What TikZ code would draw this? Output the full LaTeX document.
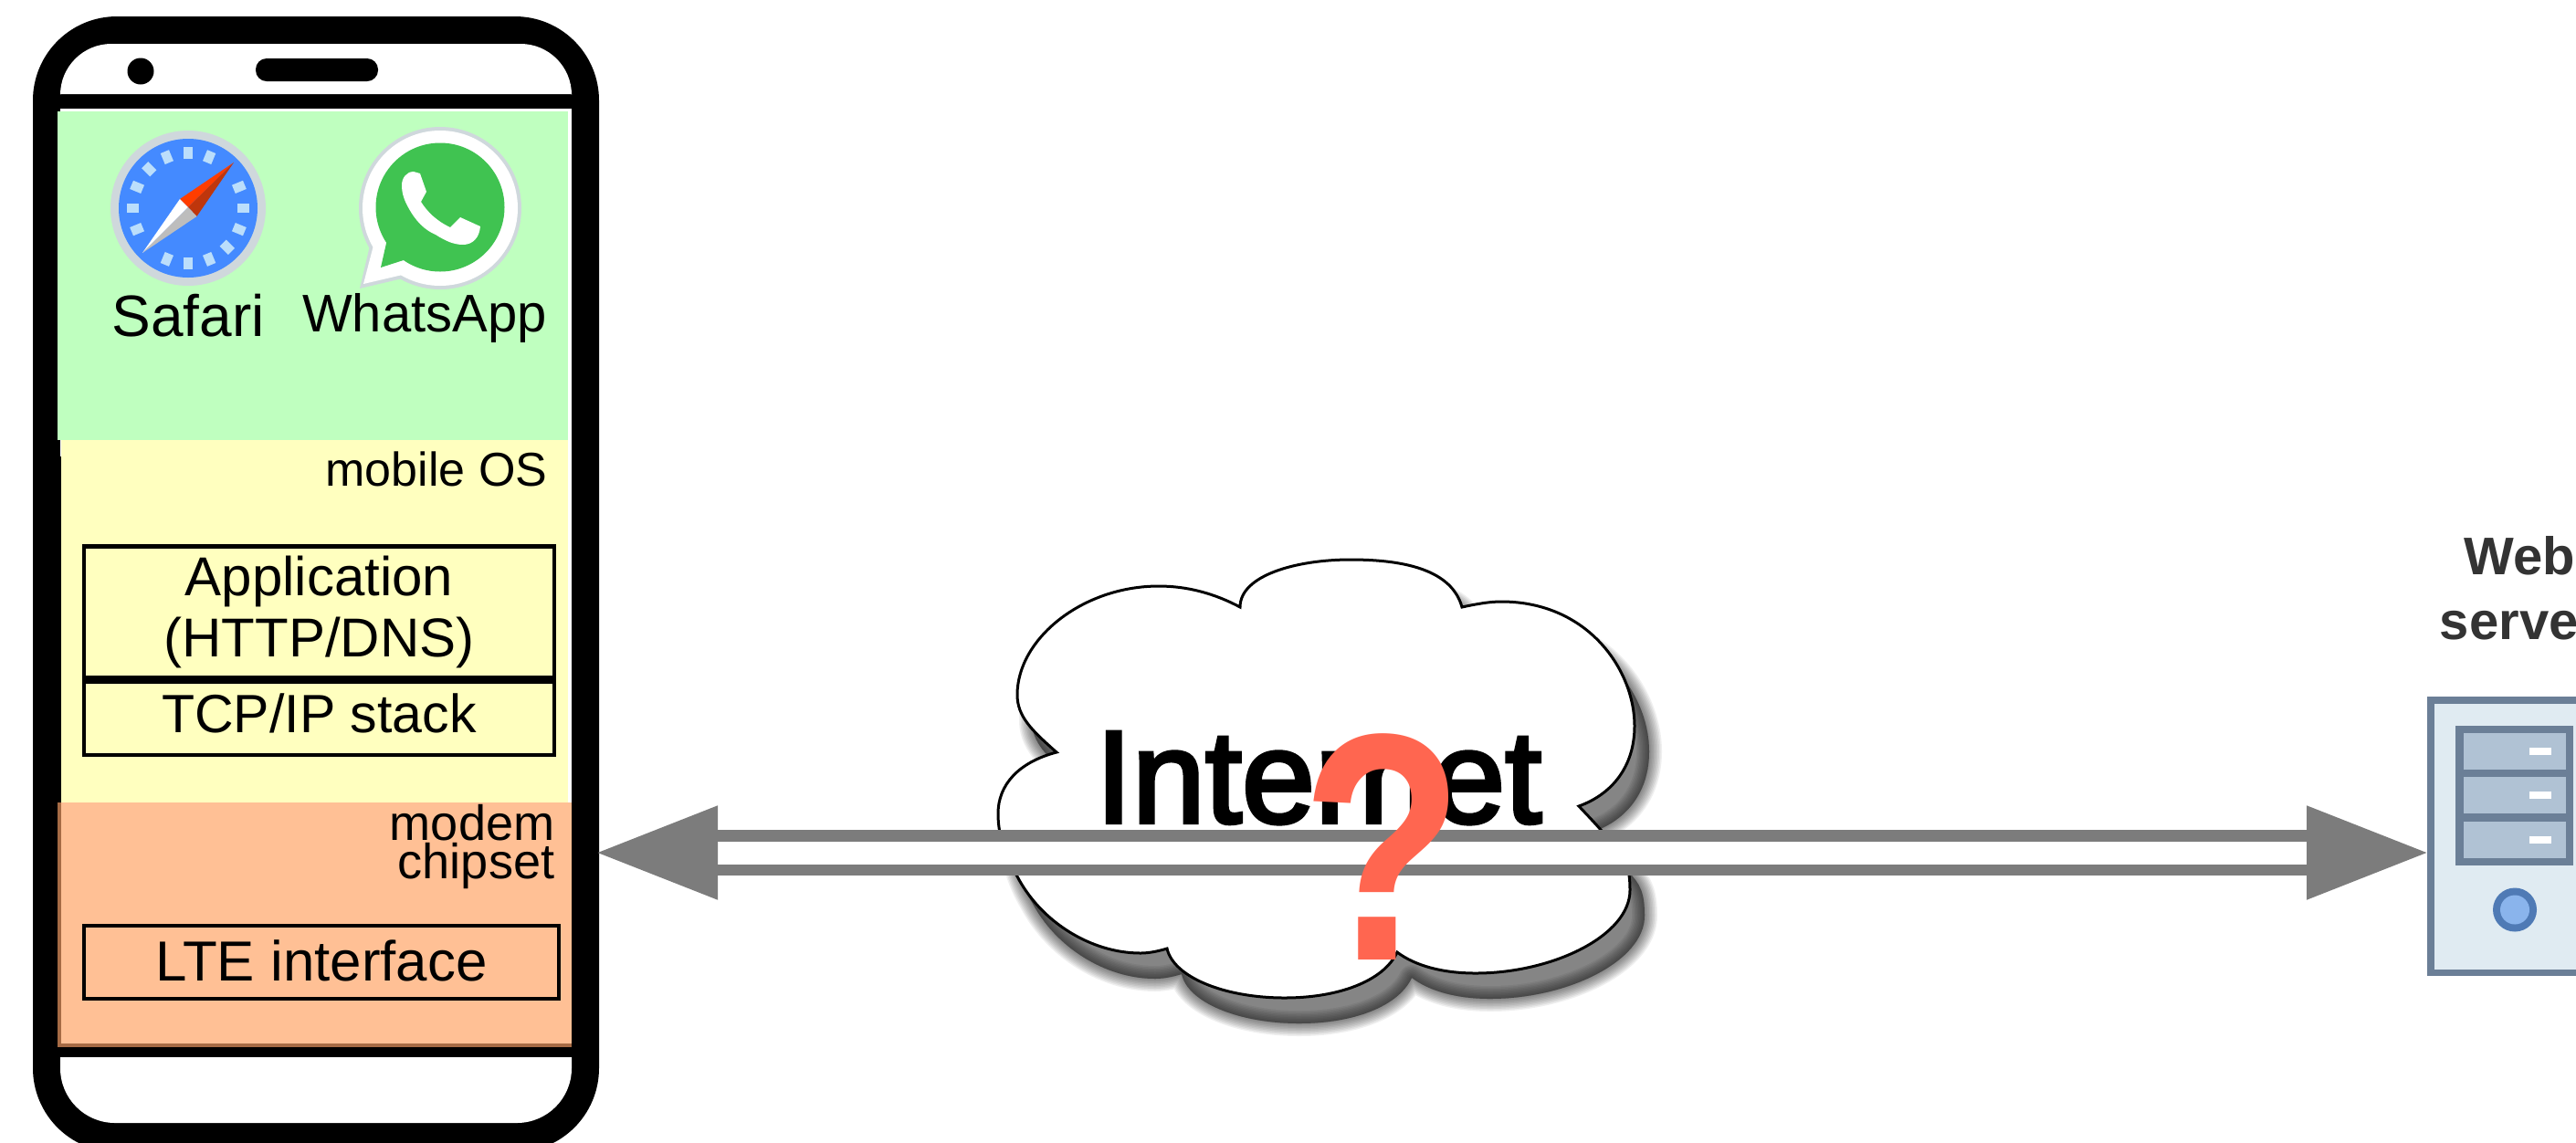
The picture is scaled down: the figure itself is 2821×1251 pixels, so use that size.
\documentclass[tikz,border=0pt]{standalone}
\usepackage{fontspec}
\setmainfont{Liberation Sans}
\newfontfamily\cloudfont[FakeBold=3]{Liberation Sans}
\usetikzlibrary{arrows.meta}
\definecolor{appgreen}{HTML}{BFFFBF}
\definecolor{osyellow}{HTML}{FFFFBF}
\definecolor{modemorange}{HTML}{FFC095}
\definecolor{modemedge}{HTML}{A66B45}
\definecolor{linkgray}{HTML}{7C7C7C}
\definecolor{quizred}{HTML}{FF6650}
\definecolor{srvline}{HTML}{6B7F97}
\definecolor{srvbody}{HTML}{E0EBF2}
\definecolor{srvdrawer}{HTML}{B0C2D4}
\definecolor{srvring}{HTML}{4F7AB5}
\definecolor{srvdisk}{HTML}{8AB4EC}
\definecolor{srvtext}{HTML}{333333}
\definecolor{safring}{HTML}{CFD8DC}
\definecolor{safblue}{HTML}{448AFF}
\definecolor{saftick}{HTML}{BBDEFB}
\definecolor{safred}{HTML}{FF3D00}
\definecolor{safdark}{HTML}{BF360C}
\definecolor{safgray}{HTML}{BDBDBD}
\definecolor{wagreen}{HTML}{40C351}
\newcommand{\cloudpath}{(1157,824) .. controls (1130,800) and (1114,785) .. (1114,761)
  .. controls (1114,700) and (1185,642) .. (1269,642) .. controls (1300,642) and (1330,650) .. (1358,665)
  .. controls (1358,630) and (1420,613) .. (1479,613) .. controls (1540,613) and (1590,625) .. (1601,665)
  .. controls (1615,662) and (1630,659) .. (1644,659) .. controls (1740,659) and (1790,735) .. (1790,795)
  .. controls (1790,840) and (1765,870) .. (1729,883) .. controls (1745,900) and (1755,910) .. (1768,928)
  .. controls (1780,940) and (1785,950) .. (1785,975) .. controls (1785,1025) and (1700,1066) .. (1616,1066)
  .. controls (1580,1066) and (1550,1058) .. (1530,1043) .. controls (1515,1075) and (1465,1093) .. (1407,1093)
  .. controls (1340,1093) and (1285,1070) .. (1278,1039) .. controls (1268,1042) and (1258,1044) .. (1249,1044)
  .. controls (1195,1044) and (1140,1010) .. (1114,960) .. controls (1105,945) and (1102,935) .. (1100,930)
  .. controls (1095,915) and (1093,905) .. (1093,891) .. controls (1093,860) and (1115,835) .. (1157,824) -- cycle}
\tikzset{
  txt/.style={font=\fontsize{#1}{#1}\selectfont,inner sep=0pt,text=black},
  stackbox/.style={draw=black,line width=.45mm,inner sep=0pt,align=center},
  link/.style={draw=linkgray,line width=1.25mm,double=white,double distance=2.5mm,
    {Triangle[length=13.2mm,width=10mm,fill=linkgray]}-{Triangle[length=13.2mm,width=10mm,fill=linkgray]}},
}
\begin{document}
\begin{tikzpicture}[x=.1mm,y=-.1mm]
\useasboundingbox (0,0) rectangle (2821,1251);
% phone
\node[fill=black,rounded corners=9.2mm,minimum width=62mm,minimum height=124.4mm,inner sep=0pt] (phone) at (346,640) {};
\fill[white] (66,103) [rounded corners=5.6mm] -- (66,48) -- (626,48) [sharp corners] -- (626,103) -- cycle;
\fill[white] (66,1158) [rounded corners=6mm] -- (66,1230) -- (626,1230) [sharp corners] -- (626,1158) -- cycle;
\fill (154,78) circle[radius=14.5];
\node[fill=black,rounded corners=1.2mm,minimum width=13.4mm,minimum height=2.5mm,inner sep=0pt] (speaker) at (347,76.5) {};
\fill[white] (66,119) rectangle (626,500);
\fill[appgreen] (63,122) rectangle (622,482);
\fill[osyellow] (67,482) rectangle (622,880);
\fill[white] (622,482) rectangle (626,880);
\fill[modemedge] (63,879) rectangle (626,1147);
\fill[modemorange] (67,879) rectangle (626,1143);
% safari
\fill[safring] (206,228) circle[radius=85];
\fill[safblue] (206,228) circle[radius=76];
\foreach \a in {0,22.5,45,67.5,90,112.5,157.5,180,202.5,225,247.5,270,292.5,337.5}
  \fill[saftick,rotate around={\a:(206,228)}] (201,161) rectangle (211,174);
\fill[safred] (256,178) -- (197,218) -- (206,227) -- cycle;
\fill[safdark] (256,178) -- (215.5,237) -- (206,227) -- cycle;
\fill[white] (156,277) -- (197,218) -- (206,227) -- cycle;
\fill[safgray] (156,277) -- (215.5,237) -- (206,227) -- cycle;
% whatsapp
\fill[safring] (482,228) circle[radius=89];
\fill[safring] (394,316) -- (406,265) -- (445,304) -- cycle;
\fill[white] (482,228) circle[radius=85];
\fill[white] (398,311) -- (410,265) -- (445,300) -- cycle;
\fill[wagreen] (482,227) circle[radius=70.5];
\fill[wagreen] (424,262) -- (417,293) -- (448,283) -- cycle;
\fill[white] (453,188) .. controls (445,188) and (440,195) .. (440,203) .. controls (440,212) and (443,220) .. (447,227)
  .. controls (455,242) and (465,252) .. (477,257) .. controls (488,264) and (497,268) .. (507,268)
  .. controls (518,268) and (525,260) .. (526,248) -- (504,238) -- (493,249) .. controls (478,242) and (468,232) .. (461,221)
  -- (467,210) -- (460,190) -- cycle;
\node[txt=18.2,anchor=base] (safari) at (206,368) {Safari};
\node[txt=16.5,anchor=base] (whatsapp) at (465,363) {WhatsApp};
\node[txt=14.8,anchor=base east] (mobileos) at (600,532) {mobile OS};
\node[stackbox,txt=17.07,minimum width=51.5mm,minimum height=14.4mm] (appbox) at (349.5,670.5) {Application\\[.7mm](HTTP/DNS)};
\node[stackbox,txt=16.8,minimum width=51.5mm,minimum height=8mm,text depth=1.2mm] (tcpbox) at (349.5,787) {TCP/IP stack};
\node[txt=15.4,anchor=base east] (modem) at (608,920) {modem};
\node[txt=15.4,anchor=base east] (chipset) at (608,962) {chipset};
\node[stackbox,txt=17.6,minimum width=52mm,minimum height=8mm,text depth=.4mm] (ltebox) at (352,1054) {LTE interface};
% cloud
\foreach \w in {28,25,22,19,16,13,10,7,4,1}
  \fill[black,opacity=.062,draw=black,line width=\w*.1mm,line join=round,shift={(16,28)}] \cloudpath;
\draw[fill=white,draw=black,line width=.3mm] \cloudpath;
\node[font=\cloudfont\fontsize{41}{41}\selectfont,inner sep=0pt,anchor=base] (internet) at (1444,901) {Internet};
% server
\node[fill=srvbody,draw=srvline,line width=.75mm,minimum width=18.5mm,minimum height=29.85mm,inner sep=0pt,anchor=north west] (server) at (2658,763) {};
\fill[srvline] (2689,795) rectangle (2818,948);
\foreach \t in {803,851,900}{
  \fill[srvdrawer] (2698,\t) rectangle (2810,\t+40);
  \fill[white] (2770,\t+16) rectangle (2794,\t+24);
}
\fill[srvring] (2754,996.5) circle[radius=24];
\fill[srvdisk] (2754,996.5) circle[radius=16];
\node[font=\bfseries\fontsize{16.5}{20.2}\selectfont,text=srvtext,align=center,inner sep=0pt,anchor=south] (webserver) at (2759,702) {Web\\server};
% link
\coordinate (phoneport) at (654,934);
\coordinate (serverport) at (2658,934);
\draw[link] (phoneport) -- (serverport);
\node[font=\bfseries\fontsize{101}{101}\selectfont,text=quizred,inner sep=0pt,anchor=base,xscale=.82,transform shape] (quiz) at (1514,1051) {?};
\end{tikzpicture}
\end{document}
